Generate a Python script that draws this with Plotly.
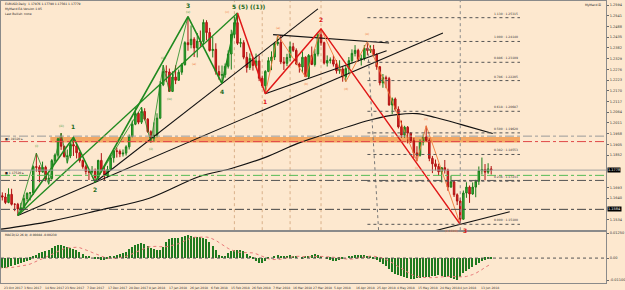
import pandas as pd
import plotly.graph_objects as go
from plotly.subplots import make_subplots

# ---------------- DATA (EURUSD daily) ----------------
opens = [1.1607,1.1651,1.1645,1.1618,1.1658,1.1609,1.1609,1.1586,1.1591,1.1637,
         1.1664,1.1666,1.1795,1.1792,1.1770,1.1792,1.1733,1.1737,1.1825,1.1852,
         1.1933,1.1896,1.1845,1.1848,1.1904,1.1897,1.1864,1.1825,1.1795,1.1771,
         1.1768,1.1772,1.1741,1.1826,1.1777,1.1749,1.1781,1.1839,1.1873,1.1871,
         1.1858,1.1862,1.1893,1.1944,1.2005,1.2058,1.2015,1.2068,1.2030,1.1968,
         1.1936,1.1950,1.2035,1.2200,1.2265,1.2263,1.2167,1.2238,1.2222,1.2262,
         1.2299,1.2408,1.2398,1.2425,1.2382,1.2416,1.2414,1.2508,1.2458,1.2369,
         1.2375,1.2265,1.2247,1.2250,1.2291,1.2352,1.2449,1.2507,1.2405,1.2408,
         1.2336,1.2285,1.2330,1.2295,1.2318,1.2232,1.2195,1.2266,1.2319,1.2337,
         1.2403,1.2410,1.2313,1.2306,1.2335,1.2388,1.2370,1.2303,1.2288,1.2336,
         1.2240,1.2345,1.2300,1.2352,1.2447,1.2408,1.2307,1.2320,1.2323,1.2302,
         1.2269,1.2278,1.2239,1.2280,1.2319,1.2355,1.2370,1.2325,1.2330,1.2380,
         1.2369,1.2375,1.2350,1.2289,1.2209,1.2235,1.2230,1.2100,1.2130,1.2079,
         1.1992,1.1951,1.1990,1.1961,1.1923,1.1863,1.1851,1.1917,1.1942,1.1924,
         1.1836,1.1809,1.1796,1.1770,1.1790,1.1778,1.1694,1.1720,1.1656,1.1625,
         1.1535,1.1665,1.1694,1.1660,1.1694,1.1723,1.1775,1.1781,1.1768,1.1784]
highs = [1.1667,1.1668,1.1665,1.1688,1.1686,1.1614,1.1616,1.1616,1.1656,1.1667,
         1.1670,1.1801,1.1862,1.1802,1.1820,1.1800,1.1761,1.1833,1.1860,1.1938,
         1.1961,1.1898,1.1880,1.1915,1.1940,1.1906,1.1869,1.1830,1.1805,1.1780,
         1.1798,1.1786,1.1829,1.1862,1.1800,1.1799,1.1850,1.1878,1.1889,1.1880,
         1.1880,1.1901,1.1954,1.2023,1.2088,1.2065,1.2090,1.2084,1.2035,1.1975,
         1.2014,1.2059,1.2218,1.2297,1.2296,1.2280,1.2266,1.2296,1.2275,1.2307,
         1.2415,1.2537,1.2493,1.2435,1.2456,1.2468,1.2523,1.2519,1.2481,1.2437,
         1.2405,1.2295,1.2295,1.2305,1.2370,1.2472,1.2537,1.2555,1.2430,1.2420,
         1.2362,1.2355,1.2338,1.2354,1.2345,1.2245,1.2272,1.2336,1.2365,1.2412,
         1.2446,1.2446,1.2337,1.2353,1.2413,1.2407,1.2380,1.2310,1.2365,1.2340,
         1.2352,1.2389,1.2377,1.2455,1.2476,1.2413,1.2345,1.2335,1.2345,1.2322,
         1.2321,1.2292,1.2292,1.2337,1.2375,1.2396,1.2378,1.2349,1.2396,1.2414,
         1.2395,1.2397,1.2356,1.2292,1.2253,1.2245,1.2239,1.2137,1.2137,1.2093,
         1.2023,1.1997,1.1996,1.1965,1.1938,1.1896,1.1930,1.1955,1.1997,1.1935,
         1.1848,1.1830,1.1810,1.1792,1.1828,1.1785,1.1751,1.1729,1.1663,1.1640,
         1.1677,1.1718,1.1702,1.1717,1.1730,1.1796,1.1840,1.1808,1.1812,1.1798]
lows = [1.1594,1.1628,1.1610,1.1614,1.1603,1.1575,1.1554,1.1574,1.1590,1.1625,
        1.1628,1.1655,1.1770,1.1718,1.1765,1.1722,1.1708,1.1730,1.1815,1.1840,
        1.1878,1.1840,1.1812,1.1837,1.1848,1.1836,1.1815,1.1785,1.1756,1.1729,
        1.1760,1.1718,1.1734,1.1771,1.1727,1.1741,1.1775,1.1815,1.1840,1.1842,
        1.1845,1.1850,1.1880,1.1940,1.2000,1.2005,1.2006,1.2023,1.1962,1.1915,
        1.1918,1.1940,1.2030,1.2193,1.2213,1.2165,1.2164,1.2203,1.2221,1.2249,
        1.2295,1.2368,1.2380,1.2337,1.2335,1.2388,1.2400,1.2420,1.2364,1.2335,
        1.2250,1.2225,1.2206,1.2235,1.2280,1.2275,1.2430,1.2397,1.2385,1.2326,
        1.2260,1.2273,1.2270,1.2286,1.2218,1.2185,1.2155,1.2262,1.2272,1.2322,
        1.2393,1.2302,1.2273,1.2292,1.2316,1.2362,1.2297,1.2260,1.2260,1.2239,
        1.2230,1.2297,1.2290,1.2340,1.2393,1.2300,1.2290,1.2305,1.2290,1.2255,
        1.2254,1.2215,1.2215,1.2258,1.2305,1.2340,1.2314,1.2295,1.2320,1.2346,
        1.2357,1.2340,1.2274,1.2197,1.2185,1.2183,1.2096,1.2055,1.2068,1.1984,
        1.1938,1.1938,1.1910,1.1912,1.1838,1.1822,1.1845,1.1900,1.1918,1.1822,
        1.1763,1.1776,1.1750,1.1717,1.1761,1.1676,1.1691,1.1645,1.1605,1.1510,
        1.1534,1.1641,1.1616,1.1656,1.1644,1.1705,1.1756,1.1728,1.1759,1.1756]
closes = [1.1651,1.1645,1.1618,1.1658,1.1609,1.1609,1.1586,1.1591,1.1637,1.1664,
          1.1666,1.1795,1.1792,1.1770,1.1792,1.1733,1.1737,1.1825,1.1852,1.1933,
          1.1896,1.1845,1.1848,1.1904,1.1897,1.1864,1.1825,1.1795,1.1771,1.1768,
          1.1772,1.1741,1.1826,1.1777,1.1749,1.1781,1.1839,1.1873,1.1871,1.1858,
          1.1862,1.1893,1.1944,1.2005,1.2058,1.2015,1.2068,1.2030,1.1968,1.1936,
          1.1950,1.2035,1.2200,1.2265,1.2263,1.2167,1.2238,1.2222,1.2262,1.2299,
          1.2408,1.2398,1.2425,1.2382,1.2416,1.2414,1.2508,1.2458,1.2369,1.2375,
          1.2265,1.2247,1.2250,1.2291,1.2352,1.2449,1.2507,1.2405,1.2408,1.2336,
          1.2285,1.2330,1.2295,1.2318,1.2232,1.2195,1.2266,1.2319,1.2337,1.2403,
          1.2410,1.2313,1.2306,1.2335,1.2388,1.2370,1.2303,1.2288,1.2336,1.2240,
          1.2345,1.2300,1.2352,1.2447,1.2408,1.2307,1.2320,1.2323,1.2302,1.2269,
          1.2278,1.2239,1.2280,1.2319,1.2355,1.2370,1.2325,1.2330,1.2380,1.2369,
          1.2375,1.2350,1.2289,1.2209,1.2235,1.2230,1.2100,1.2130,1.2079,1.1992,
          1.1951,1.1990,1.1961,1.1923,1.1863,1.1851,1.1917,1.1942,1.1924,1.1836,
          1.1809,1.1796,1.1770,1.1790,1.1778,1.1694,1.1720,1.1656,1.1625,1.1535,
          1.1665,1.1694,1.1660,1.1694,1.1723,1.1775,1.1781,1.1768,1.1784,1.1778]

# MACD(12,26,9) main histogram, in units of 0.0001
macd_main_e4 = [-50,-50,-50,-45,-40,-35,-30,-25,-20,-15,-10,
                5,15,25,30,35,40,50,60,65,65,
                60,55,50,45,40,30,20,10,5,0,
                -5,-5,-10,-10,-5,5,10,15,20,25,
                30,45,55,65,70,75,70,60,50,45,
                40,40,55,80,95,100,100,100,105,110,
                115,110,105,105,105,100,95,80,60,40,
                15,10,10,25,35,40,40,40,35,20,
                5,-5,-15,-25,-25,-15,-5,0,10,15,
                10,5,10,15,10,5,0,-5,5,10,
                15,20,15,10,0,-5,-10,-15,-15,-10,
                -5,0,5,10,15,15,15,15,10,5,
                -5,-10,-20,-30,-40,-55,-70,-80,-85,-90,
                -95,-100,-105,-105,-100,-100,-95,-95,-95,-90,
                -90,-85,-90,-95,-95,-100,-105,-110,-95,-75,
                -65,-55,-45,-35,-25,-15,-10,-5,-5]

# black moving average (read points)
ma_bars = [0.6, 16.5, 32.5, 48.5, 64.5, 75, 86, 96.5, 107, 120.5, 128.5, 135, 141, 150.5, 159.5]
ma_vals = [1.1486, 1.1525, 1.1580, 1.1639, 1.1745, 1.1786, 1.1841, 1.1910, 1.1964,
           1.2028, 1.2052, 1.2057, 1.2038, 1.1998, 1.1959]

# horizontal levels
level_prices = [1.1946, 1.1919, 1.1752, 1.1727, 1.1584]
zone_low, zone_high = 1.1914, 1.1942
fib_ratios = [0.0, 0.236, 0.382, 0.5, 0.618, 0.786, 0.886, 1.0, 1.13]

date_labels = ["23 Oct 2017", "3 Nov 2017", "14 Nov 2017", "23 Nov 2017", "7 Dec 2017",
               "17 Dec 2017", "28 Dec 2017", "8 Jan 2018", "17 Jan 2018", "26 Jan 2018",
               "6 Feb 2018", "15 Feb 2018", "26 Feb 2018", "7 Mar 2018", "16 Mar 2018",
               "27 Mar 2018", "5 Apr 2018", "16 Apr 2018", "25 Apr 2018", "4 May 2018",
               "15 May 2018", "24 May 2018", "4 Jun 2018", "13 Jun 2018"]
date_tick_bars = [0.9, 7.3, 14.3, 20.7, 27.7, 34.4, 41.2, 47.9, 54.2, 60.9, 67.7, 74.4,
                  81.1, 87.8, 94.2, 100.6, 107.6, 114.6, 121.3, 128.0, 134.8, 141.8, 148.2, 154.9]

# ---------------- FIGURE ----------------
n = len(closes)
bars = list(range(n))
BG = "#FDE8CF"
GREEN = "#1f8a1f"
DKGREEN = "#1d6b1d"
RED = "#e01818"
ORANGE = "#f07838"
FONT = "DejaVu Sans"


def pv(i, side):
    return highs[i] if side == "H" else lows[i]


def extend(i0, p0, i1, p1, xa, xb):
    s = (p1 - p0) / (i1 - i0)
    return [xa, xb], [p0 + s * (xa - i0), p0 + s * (xb - i0)]


macd = [v * 1e-4 for v in macd_main_e4]
signal = pd.Series(macd).rolling(9, min_periods=1).mean().tolist()

fig = make_subplots(rows=2, cols=1, shared_xaxes=True, vertical_spacing=0.01)

fig.add_trace(go.Candlestick(
    x=bars, open=opens, high=highs, low=lows, close=closes,
    increasing=dict(line=dict(color="#1b7d1b", width=1), fillcolor="#34b834"),
    decreasing=dict(line=dict(color="#b01212", width=1), fillcolor="#e02222"),
    whiskerwidth=0, hoverinfo="skip"), row=1, col=1)

# moving average
fig.add_trace(go.Scatter(x=ma_bars, y=ma_vals, mode="lines",
                         line=dict(color="#111111", width=1.2, shape="spline")), row=1, col=1)


def add_line(xs, ys, color, width, dash="solid"):
    fig.add_trace(go.Scatter(x=xs, y=ys, mode="lines",
                             line=dict(color=color, width=width, dash=dash)), row=1, col=1)


def add_path(points, color, width):
    add_line([p[0] for p in points], [pv(*p) for p in points], color, width)


# black trendlines
xs, ys = extend(6, pv(6, "L"), 31, pv(31, "L"), 6, 143.4)
add_line(xs, ys, "#111111", 1.1)
xs, ys = extend(31, pv(31, "L"), 72, pv(72, "L"), 31, 103)
add_line(xs, ys, "#111111", 1.1)
xs, ys = extend(90, pv(90, "H"), 119, pv(119, "H"), 88.5, 126)
add_line(xs, ys, "#111111", 1.1)
add_line([86, 125.2], [pv(86, "L"), 1.2368], "#111111", 1.1)
xs, ys = extend(149, pv(149, "L"), 165, 1.1572, 131, 165)
add_line(xs, ys, "#111111", 1.1)
add_line([119, 122.6], [pv(119, "H"), 1.1481], "#777777", 1, "dot")

# green impulse
add_path([(6, "L"), (77, "H")], GREEN, 1.3)
add_path([(6, "L"), (12, "H"), (16, "L"), (20, "H"), (22, "L"), (24, "H")], GREEN, 0.8)
add_path([(31, "L"), (46, "H"), (49, "L"), (53, "H"), (55, "L"), (61, "H")], GREEN, 0.8)
add_path([(6, "L"), (24, "H"), (31, "L"), (61, "H"), (72, "L"), (77, "H")], GREEN, 1.6)

# red / orange corrective
add_path([(86, "L"), (90, "H"), (99, "L"), (104, "H"), (112, "L"), (119, "H"),
          (135, "L"), (138, "H"), (149, "L")], ORANGE, 0.9)
add_path([(77, "H"), (86, "L"), (104, "H"), (149, "L")], RED, 1.5)

# MACD
fig.add_trace(go.Bar(x=bars, y=macd, marker=dict(color="#1f7a1f", line=dict(width=0)),
                     width=0.45), row=2, col=1)
fig.add_trace(go.Scatter(x=bars, y=signal, mode="lines",
                         line=dict(color="#e87878", width=1, dash="dot")), row=2, col=1)

shapes = []
# orange zone
shapes.append(dict(type="rect", xref="x", yref="y", x0=16.5, x1=168.3, y0=zone_low, y1=zone_high,
                   fillcolor="rgba(241,150,70,0.8)", line=dict(width=0), layer="below"))
# vertical separators
for b in [76, 85, 94, 104]:
    shapes.append(dict(type="line", xref="x", yref="y domain", x0=b, x1=b, y0=0, y1=1,
                       line=dict(color="#d9b08a", width=1, dash="dot"), layer="below"))
shapes.append(dict(type="line", xref="x", yref="y domain", x0=149, x1=149, y0=0, y1=1,
                   line=dict(color="#8a8a8a", width=1, dash="dot")))
# horizontal levels
level_styles = [("#9a9a9a", "dashdot"), ("#e04848", "dashdot"), ("#55bb55", "dashdot"),
                ("#555555", "dashdot"), ("#444444", "dashdot")]
for p, (c, d) in zip(level_prices, level_styles):
    shapes.append(dict(type="line", xref="paper", yref="y", x0=0, x1=1, y0=p, y1=p,
                       line=dict(color=c, width=1, dash=d)))
# bid line
shapes.append(dict(type="line", xref="paper", yref="y", x0=0, x1=1, y0=closes[-1], y1=closes[-1],
                   line=dict(color="#a0a0a0", width=1)))
# fibonacci
fib_lo, fib_hi = lows[149], highs[119]
annotations = []
for r in fib_ratios:
    p = fib_lo + r * (fib_hi - fib_lo)
    shapes.append(dict(type="line", xref="x", yref="y", x0=119, x1=168.3, y0=p, y1=p,
                       line=dict(color="#555555", width=1, dash="dot")))
    annotations.append(dict(x=168.3, y=p, xref="x", yref="y", text=f"{r:.3f} : {p:.5f}",
                            showarrow=False, xanchor="right", yanchor="bottom",
                            font=dict(size=3, color="#333333", family=FONT)))
# MACD zero line
shapes.append(dict(type="line", xref="paper", yref="y2", x0=0, x1=1, y0=0, y1=0,
                   line=dict(color="#555555", width=1, dash="dot")))


def lab(i, side, text, color, size=3, bold=False, shift=3, xshift=0, xanchor="center"):
    t = f"<b>{text}</b>" if bold else text
    annotations.append(dict(x=i, y=pv(i, side), xref="x", yref="y", text=t, showarrow=False,
                            xanchor=xanchor, xshift=xshift,
                            yanchor="bottom" if side == "H" else "top",
                            yshift=shift if side == "H" else -shift,
                            font=dict(size=size, color=color, family=FONT)))


# wave labels
lab(24, "H", "1", DKGREEN, 6, True, 5)
lab(31, "L", "2", DKGREEN, 6, True, 2)
lab(61, "H", "3", DKGREEN, 6, True, 6)
lab(72, "L", "4", DKGREEN, 6, True, 2)
annotations.append(dict(x=77, y=pv(77, "H"), xref="x", yref="y", text="<b>5 (5) ((1))</b>",
                        showarrow=False, xanchor="left", yanchor="bottom", xshift=-7, yshift=1,
                        font=dict(size=6, color=DKGREEN, family=FONT)))
lab(86, "L", "1", RED, 6, True, 2)
lab(104, "H", "2", RED, 6, True, 4)
annotations.append(dict(x=149, y=pv(149, "L"), xref="x", yref="y", text="<b>3</b>",
                        showarrow=False, xanchor="left", yanchor="top", xshift=1, yshift=-1,
                        font=dict(size=6, color=RED, family=FONT)))
annotations.append(dict(x=149, y=pv(149, "L"), xref="x", yref="y", text="(1.1510)",
                        showarrow=False, xanchor="right", yanchor="top", xshift=0, yshift=-3,
                        font=dict(size=3, color=ORANGE, family=FONT)))
# small pivot labels
for i, s, t in [(12, "H", "(i)"), (20, "H", "(iii)"), (22, "L", "(iv)"), (46, "H", "(i)"),
                (49, "L", "(ii)"), (53, "H", "(iii)"), (55, "L", "(iv)")]:
    lab(i, s, t, GREEN)
lab(61, "H", "(v)", GREEN, 3, False, 1)
lab(77, "H", "(v)", ORANGE, 3, False, -3, -6, "right")
for i, s, t in [(63, "L", "(a)"), (90, "H", "(a)"), (99, "L", "(b)"),
                (112, "L", "(d)"), (119, "H", "(e)"), (135, "L", "(i)"), (138, "H", "(ii)")]:
    lab(i, s, t, ORANGE)

# texts
for k, t in enumerate(["EURUSD,Daily  1.17976 1.17790 1.17561 1.17779",
                       "MyMacd EA Version 1.05", "Last Bullish: none"]):
    annotations.append(dict(x=0.004, y=1 - (3 + 5 * k) / 283, xref="paper", yref="paper", text=t,
                            showarrow=False, xanchor="left", yanchor="middle",
                            font=dict(size=3, color="#222222", family=FONT)))
annotations.append(dict(x=0.995, y=1 - 4 / 283, xref="paper", yref="paper", text="MyMacd ☒",
                        showarrow=False, xanchor="right", yanchor="middle",
                        font=dict(size=3, color="#222222", family=FONT)))
annotations.append(dict(x=0.004, y=1 - 235 / 283, xref="paper", yref="paper",
                        text="MACD(12,26,9) -0.00084 -0.00230", showarrow=False,
                        xanchor="left", yanchor="middle",
                        font=dict(size=3, color="#222222", family=FONT)))
annotations.append(dict(x=0.003, y=1.1932, xref="paper", yref="y", text="■1.19320 ▸",
                        showarrow=False, xanchor="left", yanchor="middle",
                        font=dict(size=3, color="#333333", family=FONT)))
annotations.append(dict(x=0.003, y=1.1766, xref="paper", yref="y", text="■ 1.17520 ▸",
                        showarrow=False, xanchor="left", yanchor="middle",
                        font=dict(size=3, color="#222222", family=FONT)))
box_prices = [closes[-1], level_prices[4]]
for p in box_prices:
    annotations.append(dict(x=1.0, y=p, xref="paper", yref="y", text=f"{p:.4f}",
                            showarrow=False, xanchor="left", yanchor="middle", xshift=1,
                            bgcolor="#000000", borderpad=0,
                            font=dict(size=3.5, color="#ffffff", family=FONT)))
# date labels along the bottom (all of them, MT4-style left aligned at the tick)
for b, t in zip(date_tick_bars, date_labels):
    annotations.append(dict(x=b, y=0, xref="x2", yref="paper", text=t, showarrow=False,
                            xanchor="left", yanchor="top", yshift=-1,
                            font=dict(size=3, color="#333333", family=FONT)))

# price-axis ticks (every 0.0053), skipping those hidden by the black boxes
price_ticks = []
t = 1.2594
while t > 1.1485:
    if all(abs(t - b) > 0.0035 for b in box_prices):
        price_ticks.append(round(t, 4))
    t -= 0.0053

axis_common = dict(showgrid=False, zeroline=False, showline=True, mirror=True,
                   linecolor="#8a8a8a", linewidth=1)
fig.update_layout(
    width=625, height=290, margin=dict(l=0, r=13, t=0, b=7),
    paper_bgcolor=BG, plot_bgcolor=BG, showlegend=False, bargap=0,
    shapes=shapes, annotations=annotations,
    xaxis=dict(range=[0.575, 196.1], showticklabels=False, ticks="",
               rangeslider=dict(visible=False), **axis_common),
    xaxis2=dict(range=[0.575, 196.1], showticklabels=False, ticks="", **axis_common),
    yaxis=dict(domain=[53 / 283, 1], range=[1.1481, 1.2614], side="right", tickmode="array",
               tickvals=price_ticks, ticktext=[f"{v:.4f}" for v in price_ticks],
               ticks="outside", ticklen=2,
               tickcolor="#666666", tickfont=dict(size=3.5, color="#333333", family=FONT),
               **axis_common),
    yaxis2=dict(domain=[0, 51 / 283], range=[-0.0125, 0.013], side="right", tickmode="array",
                tickvals=[0.0125, 0, -0.011], ticktext=["0.01250", "0.00", "-0.01100"],
                ticks="outside", ticklen=2, tickcolor="#666666",
                tickfont=dict(size=3.5, color="#333333", family=FONT), **axis_common),
)

fig.write_html("out.html")
